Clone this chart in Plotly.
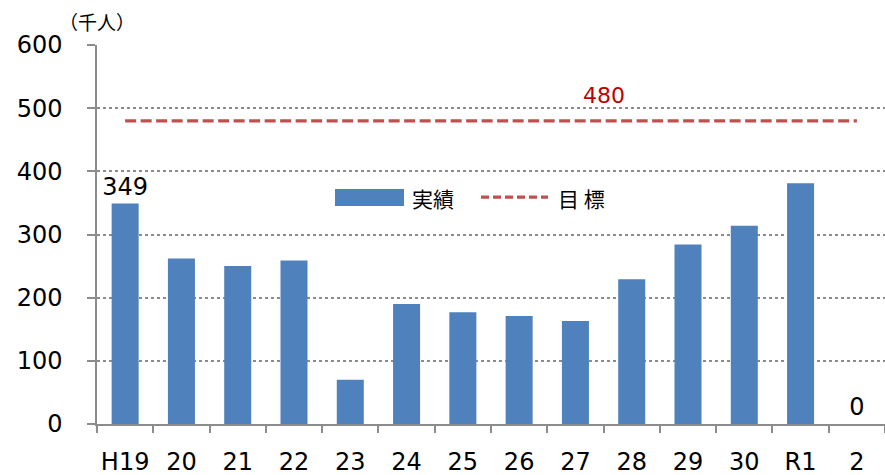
import plotly.graph_objects as go

# 年度別の実績（千人）と目標
years = ["H19", "20", "21", "22", "23", "24", "25", "26", "27", "28", "29", "30", "R1", "2"]
actual = [349, 262, 250, 259, 70, 190, 177, 171, 163, 229, 284, 314, 381, 0]
target = [480] * len(years)
value_labels = ["349", "", "", "", "", "", "", "", "", "", "", "", "", "0"]
target_label = "480"
y_ticks = [0, 100, 200, 300, 400, 500, 600]

FONT = "DejaVu Sans, Verdana, Noto Sans CJK JP"
BLUE = "#4F81BD"
RED = "#C0504D"
GRID = "#8C8C8C"

fig = go.Figure()

fig.add_trace(go.Bar(
    x=years, y=actual, name="実績",
    marker=dict(color=BLUE, line=dict(width=0)),
    text=value_labels, textposition="outside", cliponaxis=False,
    constraintext="none",
    textfont=dict(family=FONT, size=24, color="#000000"),
    width=0.48,
))

fig.add_trace(go.Scatter(
    x=years, y=target, name="目標", mode="lines",
    line=dict(color=RED, width=3.3, dash="11px,4.5px"),
))

fig.add_annotation(
    x=8.5, y=target[0], text=target_label, showarrow=False,
    yshift=25, font=dict(family=FONT, size=22, color="#C00000"),
)

# unit label
fig.add_annotation(
    xref="paper", yref="paper", x=0.0, y=1.0, xanchor="center", yanchor="bottom",
    text="（千人）", showarrow=False, yshift=8,
    font=dict(family="Noto Sans CJK JP", size=19, color="#000000"),
)

# legend
fig.add_shape(type="rect", xref="paper", yref="paper",
              x0=(335 - 97) / 788, x1=(404 - 97) / 788,
              y0=(424.5 - 206) / 380, y1=(424.5 - 189) / 380,
              fillcolor=BLUE, line=dict(width=0))
fig.add_annotation(xref="paper", yref="paper", x=(410 - 97) / 788, y=(424.5 - 197.5) / 380,
                   xanchor="left", yanchor="middle", text="実績", showarrow=False,
                   font=dict(family="Noto Sans CJK JP", size=21, color="#000000"))
fig.add_shape(type="line", xref="paper", yref="paper",
              x0=(481 - 97) / 788, x1=(548 - 97) / 788,
              y0=(424.5 - 197) / 380, y1=(424.5 - 197) / 380,
              line=dict(color=RED, width=3.3, dash="8px,4px"))
fig.add_annotation(xref="paper", yref="paper", x=(556 - 97) / 788, y=(424.5 - 197.5) / 380,
                   xanchor="left", yanchor="middle", text="目 標", showarrow=False,
                   font=dict(family="Noto Sans CJK JP", size=21, color="#000000"))

fig.update_layout(
    width=885, height=475,
    margin=dict(l=97, r=0, t=45, b=50.5),
    plot_bgcolor="white", paper_bgcolor="white",
    showlegend=False,
    font=dict(family=FONT, size=24, color="#000000"),
    bargap=0.52,
)

fig.update_xaxes(
    type="category", categoryorder="array", categoryarray=years,
    showline=True, linecolor=GRID, linewidth=1.5,
    ticks="outside", tickson="boundaries", ticklen=7, tickcolor=GRID, tickwidth=1.5,
    showgrid=False, tickfont=dict(family=FONT, size=24),
    tickangle=0, automargin=False,
    ticklabelstandoff=15,
)

fig.update_yaxes(
    range=[0, 600], tickvals=y_ticks,
    showline=True, linecolor=GRID, linewidth=1.5,
    ticks="outside", ticklen=8, tickcolor=GRID, tickwidth=1.5,
    showgrid=True, gridcolor=GRID, griddash="dot", gridwidth=1.5,
    zeroline=False, tickfont=dict(family=FONT, size=24),
    automargin=False,
    ticklabelstandoff=20,
)

fig.write_html("out.html")
